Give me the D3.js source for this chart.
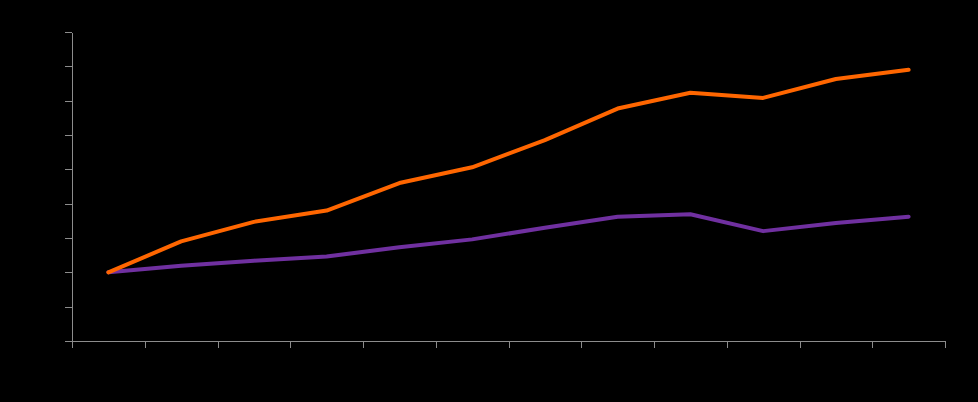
<!DOCTYPE html>
<html>
<head>
<meta charset="utf-8">
<script src="https://cdn.jsdelivr.net/npm/d3@7"></script>
<style>
  html, body { margin: 0; padding: 0; background: #000; }
  .axis path, .axis line { stroke: #8c8c8c; stroke-width: 1; shape-rendering: crispEdges; }
  .axis text { display: none; }
</style>
</head>
<body>
<div id="chart"></div>
<script>
var categories = ["1", "2", "3", "4", "5", "6", "7", "8", "9", "10", "11", "12"],
    yTicks = [0, 1, 2, 3, 4, 5, 6, 7, 8, 9],
    orangeValues = [2.0, 2.9, 3.47, 3.8, 4.6, 5.06, 5.85, 6.77, 7.23, 7.08, 7.63, 7.9],
    purpleValues = [2.0, 2.19, 2.34, 2.46, 2.73, 2.96, 3.3, 3.62, 3.69, 3.2, 3.44, 3.62];

var width = 978, height = 402,
    margin = { top: 32, right: 33, bottom: 61, left: 72 };

var svg = d3.select("#chart").append("svg")
    .attr("width", width)
    .attr("height", height)
    .style("display", "block");

svg.append("rect")
    .attr("width", width)
    .attr("height", height)
    .attr("fill", "#000");

// x: one slot per category, ticks on slot boundaries
var x = d3.scaleLinear()
    .domain([0, categories.length])
    .range([margin.left, width - margin.right]);

var y = d3.scaleLinear()
    .domain([0, yTicks[yTicks.length - 1]])
    .range([height - margin.bottom, margin.top]);

svg.append("g")
    .attr("class", "axis")
    .attr("transform", "translate(0," + (height - margin.bottom) + ")")
    .call(d3.axisBottom(x)
      .tickValues(d3.range(categories.length + 1))
      .tickSize(7)
      .tickSizeOuter(0)
      .tickFormat(""));

svg.append("g")
    .attr("class", "axis")
    .attr("transform", "translate(" + margin.left + ",0)")
    .call(d3.axisLeft(y)
      .tickValues(yTicks)
      .tickSize(7)
      .tickSizeOuter(0)
      .tickFormat(""));

var line = d3.line()
    .x(function(d, i) { return x(i + 0.5); })
    .y(function(d) { return y(d); });

svg.append("path")
    .datum(purpleValues)
    .attr("fill", "none")
    .attr("stroke", "#7030a0")
    .attr("stroke-width", 4)
    .attr("stroke-linecap", "round")
    .attr("stroke-linejoin", "round")
    .attr("d", line);

svg.append("path")
    .datum(orangeValues)
    .attr("fill", "none")
    .attr("stroke", "#ff6600")
    .attr("stroke-width", 4)
    .attr("stroke-linecap", "round")
    .attr("stroke-linejoin", "round")
    .attr("d", line);
</script>
</body>
</html>
